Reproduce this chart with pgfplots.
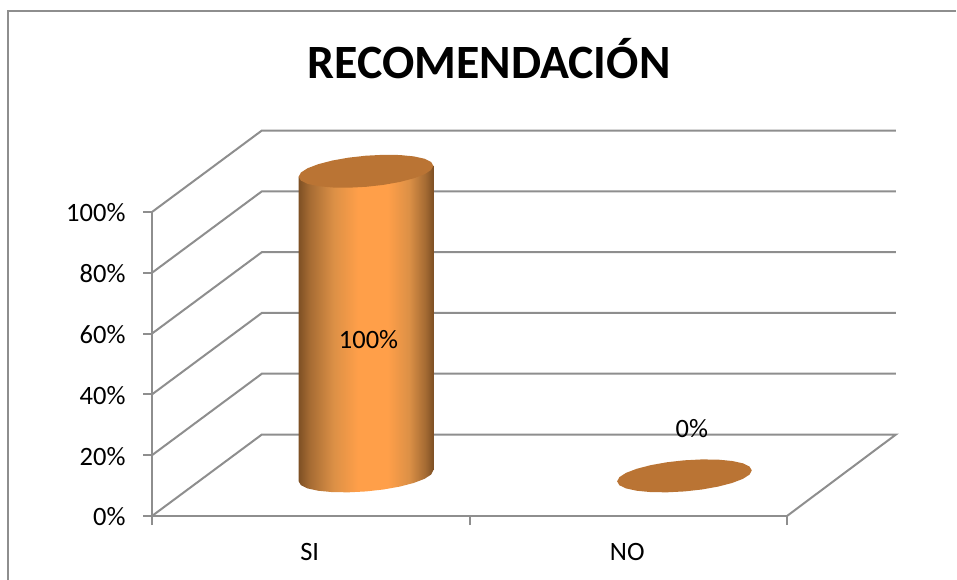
\documentclass[border=0pt]{standalone}
\usepackage{fontspec}
\setmainfont{Carlito}
\usepackage{pgfplots}
\pgfplotsset{compat=1.18}
\definecolor{gridgray}{HTML}{8E8E8E}
\definecolor{cyltop}{HTML}{BA7434}
\definecolor{cylmid}{HTML}{FF9F49}
\definecolor{cyledge}{HTML}{7E5024}
\definecolor{cyldark}{HTML}{A56B33}
\definecolor{cylside}{HTML}{DC9046}
\pgfdeclarehorizontalshading{cyl}{100bp}{
  color(0bp)=(cyledge);
  color(25bp)=(cyledge);
  color(29bp)=(cyldark);
  color(38bp)=(cylside);
  color(47bp)=(cylmid);
  color(58bp)=(cylmid);
  color(66bp)=(cylside);
  color(72bp)=(cyldark);
  color(75bp)=(cyledge);
  color(100bp)=(cyledge)}
\begin{document}
\begin{tikzpicture}
% 1 px of the reference = 1pt here
\path[use as bounding box] (-152pt,-64pt) rectangle (805pt,516pt);
\begin{axis}[
  scale only axis,
  width=635pt,
  height=304pt,
  clip=false,
  xmin=-0.5, xmax=1.5,
  ymin=0, ymax=100,
  axis x line*=bottom,
  axis y line*=left,
  axis line style={draw=gridgray, line width=2pt, -},
  tick style={draw=gridgray, line width=2pt},
  tick align=outside,
  major tick length=9pt,
  xtick={-0.5,0.5,1.5},
  xticklabels={SI,NO},
  x tick label as interval,
  ytick={0,20,40,60,80,100},
  yticklabel={\pgfmathprintnumber[assume math mode=true]{\tick}\%},
  tick label style={font=\fontsize{26.5}{30}\selectfont, text=black},
  y tick label style={xshift=-14pt, yshift=-1pt},
  x tick label style={yshift=-15pt, xshift=-1pt},
]
% chart frame
\addplot[gridgray, line width=2pt, no markers] coordinates {(-0.9528,-21.05) (-0.9528,166.1) (2.031,166.1)};
% walls
\addplot[gridgray, line width=2pt, no markers] coordinates {(-0.5,0) (-0.154,26.8) (1.843,26.8) (1.5,0)};
\addplot[gridgray, line width=2pt, no markers] coordinates {(-0.5,20) (-0.154,46.8) (1.843,46.8)};
\addplot[gridgray, line width=2pt, no markers] coordinates {(-0.5,40) (-0.154,66.8) (1.843,66.8)};
\addplot[gridgray, line width=2pt, no markers] coordinates {(-0.5,60) (-0.154,86.8) (1.843,86.8)};
\addplot[gridgray, line width=2pt, no markers] coordinates {(-0.5,80) (-0.154,106.8) (1.843,106.8)};
\addplot[gridgray, line width=2pt, no markers] coordinates {(-0.5,100) (-0.154,126.8) (1.843,126.8)};
% SI cylinder, 100%
\addplot[draw=none, shading=cyl, no markers] coordinates {
  (-.038,111.59) (-.038,11.39) (-.031,10.13) (-.010,9.07) (.024,8.30) (.068,7.86) (.119,7.79)
  (.174,8.08) (.229,8.72) (.280,9.67) (.324,10.86) (.358,12.21) (.379,13.62) (.386,15.01)
  (.386,115.21)} -- cycle;
\addplot[draw=none, fill=cyltop, no markers] coordinates {
  (.386,115.21) (.379,116.47) (.358,117.53) (.324,118.30) (.280,118.74) (.229,118.81)
  (.174,118.52) (.119,117.88) (.068,116.93) (.024,115.74) (-.010,114.39) (-.031,112.98)
  (-.038,111.59) (-.031,110.33) (-.010,109.27) (.024,108.50) (.068,108.06) (.119,107.99)
  (.174,108.28) (.229,108.92) (.280,109.87) (.324,111.06) (.358,112.41) (.379,113.82)} -- cycle;
% NO cylinder, 0%
\addplot[draw=none, fill=cyltop, no markers] coordinates {
  (1.389,15.01) (1.382,16.27) (1.361,17.33) (1.327,18.10) (1.283,18.54) (1.232,18.61)
  (1.177,18.32) (1.122,17.68) (1.071,16.73) (1.027,15.54) (.993,14.19) (.972,12.78)
  (.965,11.39) (.972,10.13) (.993,9.07) (1.027,8.30) (1.071,7.86) (1.122,7.79)
  (1.177,8.08) (1.232,8.72) (1.283,9.67) (1.327,10.86) (1.361,12.21) (1.382,13.62)} -- cycle;
\node[font=\fontsize{26.5}{30}\selectfont] at (axis cs:0.182,57.9) {100\%};
\node[font=\fontsize{26.5}{30}\selectfont] at (axis cs:1.200,28.6) {0\%};
\node[font=\fontsize{47.8}{52}\selectfont\bfseries] at (axis cs:0.562,150.3) {RECOMENDACIÓN};
\end{axis}
\end{tikzpicture}
\end{document}
